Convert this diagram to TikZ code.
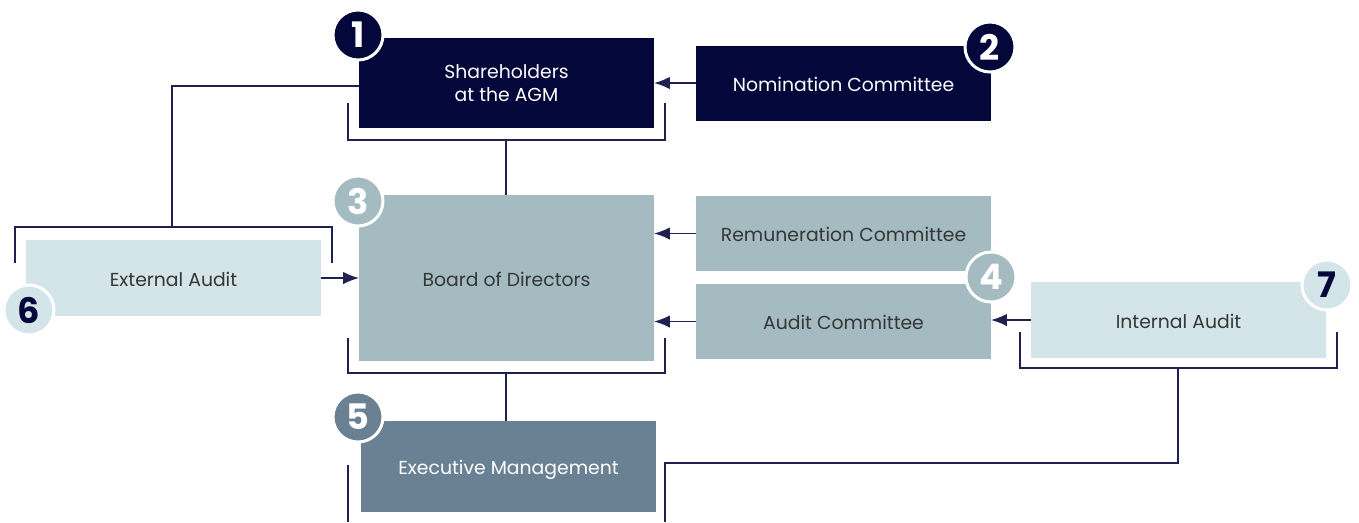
\documentclass[tikz,border=0pt]{standalone}
\usepackage{fontspec}
\setmainfont{Poppins}
\usetikzlibrary{arrows.meta,calc}
\definecolor{navy}{HTML}{03073A}
\definecolor{board}{HTML}{A5BBC2}
\definecolor{pale}{HTML}{D3E5E8}
\definecolor{slate}{HTML}{6A8093}
\definecolor{ink}{HTML}{363636}
\definecolor{wire}{HTML}{1E2152}

\begin{document}
\begin{tikzpicture}[x=0.02cm,y=-0.02cm,
  box/.style={inner sep=0pt,outer sep=0pt,minimum width=5.9cm,align=center,font=\fontsize{10.7}{13}\selectfont},
  oneline/.style={box,text height=9.2pt,text depth=0pt},
  badge/.style={circle,draw=white,line width=1.7pt,minimum size=1cm,inner sep=0pt,font=\fontsize{20}{20}\selectfont\bfseries},
  wire/.style={draw=wire,line width=0.9pt},
  arr/.style={wire,-{Latex[length=9pt,width=7pt]}}]
\useasboundingbox (0,0) rectangle (1359,522);
\node [box,fill=navy,text=white,minimum height=1.8cm] (sh) at (506.5,83) {Shareholders\\at the AGM};
\node [oneline,fill=navy,text=white,minimum height=1.5cm] (nom) at (843.5,83) {Nomination Committee};
\node [oneline,fill=board,text=ink,minimum height=3.32cm] (bod) at (506.5,278) {Board of Directors};
\node [oneline,fill=board,text=ink,minimum height=1.5cm] (rem) at (843.5,233.5) {Remuneration Committee};
\node [oneline,fill=board,text=ink,minimum height=1.5cm] (ac) at (843.5,321.5) {Audit Committee};
\node [oneline,fill=pale,text=ink,minimum height=1.52cm] (ext) at (173.5,278) {External Audit};
\node [oneline,fill=pale,text=ink,minimum height=1.52cm] (ia) at (1178.5,320) {Internal Audit};
\node [oneline,fill=slate,text=white,minimum height=1.82cm] (em) at (508.5,466.5) {Executive Management};
\node [badge,fill=navy,text=white] (n1) at (358,35) {1};
\node [badge,fill=navy,text=white] (n2) at (990,47) {2};
\node [badge,fill=board,text=white] (n3) at (358,201) {3};
\node [badge,fill=board,text=white] (n4) at (991,277) {4};
\node [badge,fill=slate,text=white] (n5) at (358,417) {5};
\node [badge,fill=pale,text=navy] (n6) at (29,310) {6};
\node [badge,fill=pale,text=navy] (n7) at (1327,285) {7};
\coordinate (shb) at (506,140);
\coordinate (bodb) at (506,373);
\coordinate (extb) at (172,227);
\coordinate (iab) at (1178,368);
\coordinate (emr) at (665,522);
\draw [wire] (348,103) -- (348,140) -- (665,140) -- (665,103);
\draw [wire] (348,338) -- (348,373) -- (665,373) -- (665,338);
\draw [wire] (15,263) -- (15,227) -- (332,227) -- (332,263);
\draw [wire] (1020,332) -- (1020,368) -- (1337,368) -- (1337,332);
\draw [wire] (348,465) -- (348,522);
\draw [wire] (shb) -- (shb |- bod.north);
\draw [wire] (bodb) -- (bodb |- em.north);
\draw [wire] (extb) |- ($(sh.west)+(0,3)$);
\draw [wire] (iab) -- (1178,463) -| (emr);
\draw [arr] (nom.west) -- (sh.east);
\draw [arr] (rem.west) -- (bod.east |- rem.west);
\draw [arr] (ac.west) -- (bod.east |- ac.west);
\draw [arr] (ext.east) -- (bod.west);
\draw [arr] (ia.west) -- (ac.east |- ia.west);
\end{tikzpicture}
\end{document}
